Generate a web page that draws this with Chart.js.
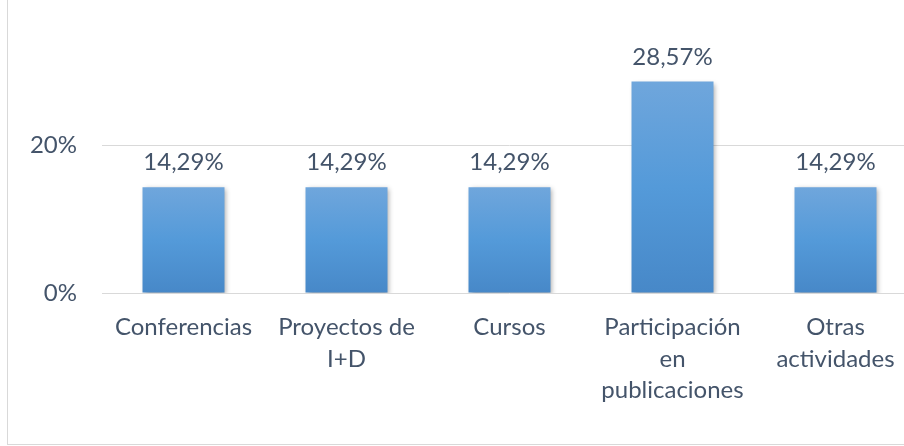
<!DOCTYPE html>
<html>
<head>
<meta charset="utf-8">
<script src="https://cdn.jsdelivr.net/npm/chart.js@4/dist/chart.umd.min.js"></script>
<style>
  html, body { margin: 0; padding: 0; background: #fff; overflow: hidden; }
  #wrap { position: relative; width: 920px; height: 446px; }
  .edge-left { position: absolute; left: 7px; top: 0; width: 1px; height: 445px; background: #d9d9d9; }
  .edge-bottom { position: absolute; left: 7px; top: 444px; width: 913px; height: 1px; background: #d9d9d9; }
</style>
</head>
<body>
<div id="wrap">
  <canvas id="chart"></canvas>
  <div class="edge-left"></div>
  <div class="edge-bottom"></div>
</div>
<script>
const categories = [
  'Conferencias',
  ['Proyectos de', 'I+D'],
  'Cursos',
  ['Participación', 'en', 'publicaciones'],
  ['Otras', 'actividades']
];
const values = [14.29, 14.29, 14.29, 28.57, 14.29];
const tickValues = [0, 20];

const textColor = '#44546a';
const fontFamily = 'Lato, "Open Sans", sans-serif';
const fontSize = 24;

const fmt = v => v.toFixed(2).replace('.', ',') + '%';

// labels above the bars
const valueLabels = {
  id: 'valueLabels',
  afterDatasetsDraw(chart) {
    const ctx = chart.ctx;
    const meta = chart.getDatasetMeta(0);
    ctx.save();
    ctx.font = fontSize + 'px ' + fontFamily;
    ctx.fillStyle = textColor;
    ctx.textAlign = 'center';
    ctx.textBaseline = 'alphabetic';
    meta.data.forEach((bar, i) => {
      ctx.fillText(fmt(values[i]), bar.x, bar.y - 17);
    });
    ctx.restore();
  }
};

// soft shadow behind the bars
const barShadow = {
  id: 'barShadow',
  beforeDatasetsDraw(chart) {
    const ctx = chart.ctx;
    ctx.save();
    ctx.shadowColor = 'rgba(0,0,0,0.35)';
    ctx.shadowBlur = 5;
    ctx.shadowOffsetX = 2;
    ctx.shadowOffsetY = 2;
  },
  afterDatasetsDraw(chart) {
    chart.ctx.restore();
  }
};

const chart = new Chart(document.getElementById('chart'), {
  type: 'bar',
  data: {
    labels: categories,
    datasets: [{
      data: values,
      backgroundColor: (c) => {
        const y = c.chart.scales.y;
        if (!y || c.raw === undefined) return '#5b9bd5';
        const top = y.getPixelForValue(c.raw);
        const base = y.getPixelForValue(0);
        if (!isFinite(top) || !isFinite(base) || top === base) return '#5b9bd5';
        const g = c.chart.ctx.createLinearGradient(0, top, 0, base);
        g.addColorStop(0, '#6fa6dc');
        g.addColorStop(0.5, '#549ad9');
        g.addColorStop(1, '#4788c8');
        return g;
      },
      borderWidth: 0,
      categoryPercentage: 1,
      barPercentage: 0.503
    }]
  },
  options: {
    responsive: true,
    maintainAspectRatio: false,
    animation: false,
    layout: { padding: { top: 71, right: 3, left: 0, bottom: 0 } },
    plugins: {
      legend: { display: false },
      tooltip: { enabled: false }
    },
    scales: {
      x: {
        grid: { display: false, drawTicks: false },
        border: { display: false },
        ticks: {
          color: textColor,
          font: { family: fontFamily, size: fontSize, lineHeight: 1.3 },
          padding: 19,
          maxRotation: 0,
          autoSkip: false
        },
        afterFit(s) { s.height = 153; }
      },
      y: {
        min: 0,
        max: 30,
        grid: { color: '#d9d9d9', lineWidth: 1, drawTicks: false },
        border: { display: false },
        afterBuildTicks(s) { s.ticks = tickValues.map(v => ({ value: v })); },
        ticks: {
          color: textColor,
          font: { family: fontFamily, size: fontSize },
          padding: 25,
          callback: v => v + '%'
        },
        afterFit(s) { s.width = 102; }
      }
    }
  },
  plugins: [barShadow, valueLabels]
});
chart.update();
</script>
</body>
</html>
